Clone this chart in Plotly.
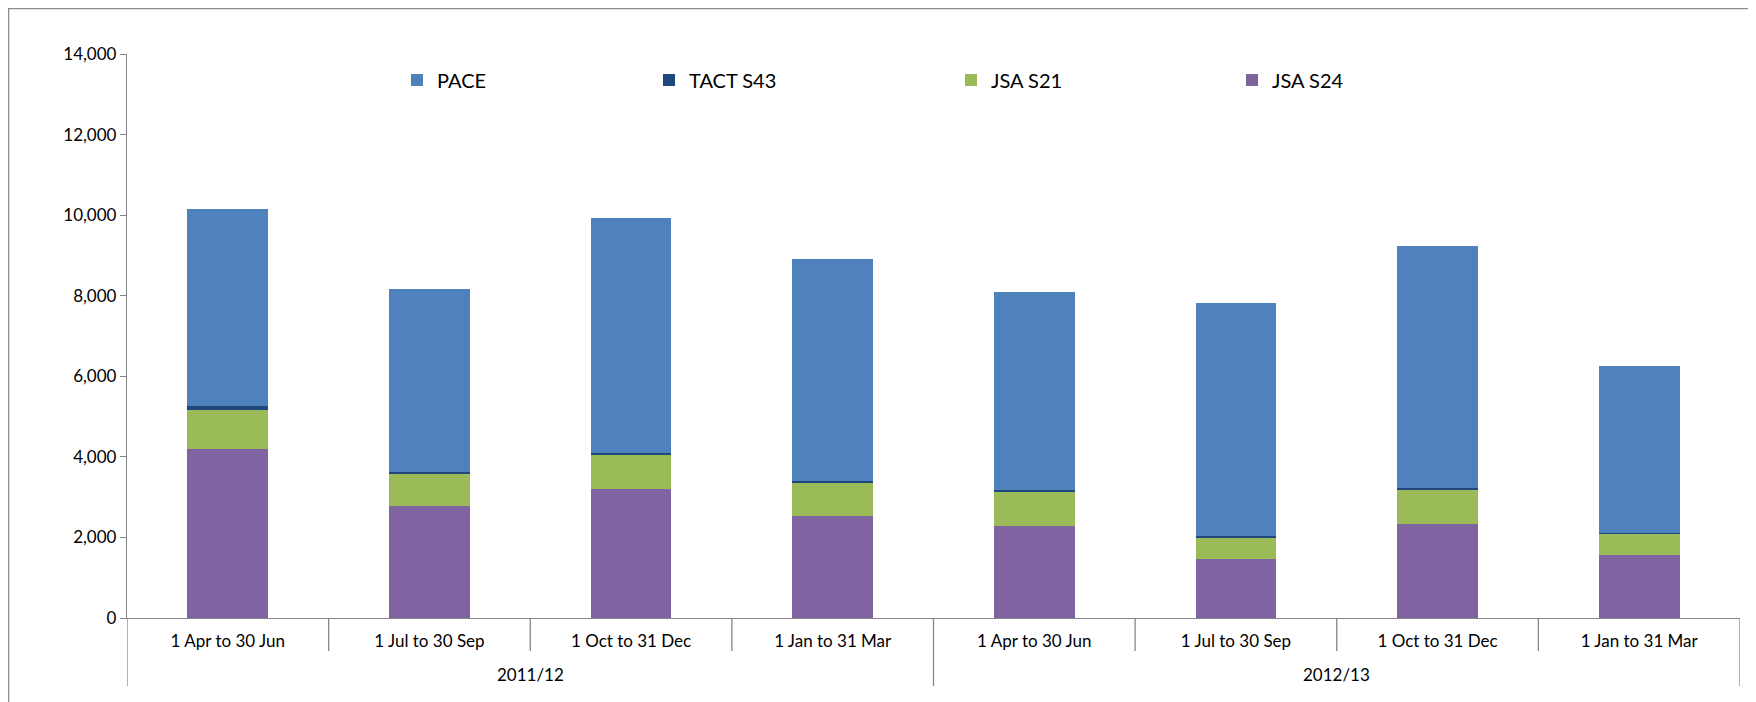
import plotly.graph_objects as go

years = ["2011/12"] * 4 + ["2012/13"] * 4
quarters = ["1 Apr to 30 Jun", "1 Jul to 30 Sep", "1 Oct to 31 Dec", "1 Jan to 31 Mar"] * 2

jsa_s24 = [4195, 2770, 3210, 2530, 2295, 1470, 2345, 1565]
jsa_s21 = [960, 820, 855, 845, 855, 540, 840, 530]
tact_s43 = [105, 35, 35, 30, 35, 30, 45, 15]
pace = [4900, 4530, 5835, 5500, 4915, 5780, 6010, 4155]

FONT = "Lato"
W, H = 1756, 702
# page has an 8px body margin, positions below are in figure pixels
L, R, T, B = 119, 24, 46, 92
PW = W - L - R
PH = H - T - B
AXIS_Y = H - B


def px_x(p):
    return (p - L) / PW


def px_y(p):
    return (AXIS_Y - p) / PH


keys = [f"{y} | {q}" for y, q in zip(years, quarters)]

fig = go.Figure()
series = [
    ("JSA S24", jsa_s24, "#8064A2", "legend4", 1224),
    ("JSA S21", jsa_s21, "#9BBB59", "legend3", 943),
    ("TACT S43", tact_s43, "#1F497D", "legend2", 641),
    ("PACE", pace, "#4F81BD", "legend", 389),
]
for name, vals, col, lg, _ in series:
    fig.add_trace(go.Bar(
        x=keys, y=vals, name=name, legend=lg,
        marker=dict(color=col, line=dict(width=0)),
    ))

leg_common = dict(
    orientation="h", yanchor="middle", xanchor="left",
    font=dict(family=FONT, size=20, color="#000000"),
    bgcolor="rgba(0,0,0,0)", borderwidth=0,
)
legends = {}
for name, vals, col, lg, lx in series:
    legends[lg] = dict(leg_common, x=px_x(lx), y=px_y(72))

AX_COL = "#868686"
shapes = [dict(
    type="rect", xref="paper", yref="paper",
    x0=px_x(0.5), x1=px_x(W + 20), y0=px_y(H + 20), y1=px_y(0.5),
    line=dict(color="#8c8c8c", width=1.5), fillcolor="rgba(0,0,0,0)",
    layer="below",
)]
# category boundaries (inner) and year-group boundaries (outer)
n = len(keys)
for i in range(n + 1):
    is_group = i == 0 or i == n or years[i] != years[i - 1]
    bottom = 678 if is_group else 643
    shapes.append(dict(
        type="line", xref="x", yref="paper",
        x0=i - 0.5, x1=i - 0.5, y0=0, y1=px_y(bottom),
        line=dict(color=AX_COL, width=1.3),
    ))

annotations = []
groups = []
for i, y in enumerate(years):
    if not groups or groups[-1][0] != y:
        groups.append([y, i, i])
    else:
        groups[-1][2] = i
for y, a, b in groups:
    annotations.append(dict(
        text=y, x=(a + b) / 2, xref="x", y=px_y(667), yref="paper",
        xanchor="center", yanchor="middle", showarrow=False,
        font=dict(family=FONT, size=17, color="#000000"),
    ))

fig.update_layout(
    width=W, height=H,
    margin=dict(l=L, r=R, t=T, b=B),
    barmode="stack", bargap=0.6,
    plot_bgcolor="white", paper_bgcolor="white",
    font=dict(family=FONT, size=17, color="#000000"),
    showlegend=True,
    **legends,
    xaxis=dict(
        type="category", range=[-0.5, n - 0.5],
        tickvals=keys, ticktext=quarters,
        showline=True, linecolor=AX_COL, linewidth=1.3,
        ticks="", ticklabelstandoff=7,
        tickfont=dict(family=FONT, size=17, color="#000000"),
        showgrid=False,
    ),
    yaxis=dict(
        range=[0, 14000], dtick=2000, tickformat=",",
        showline=True, linecolor=AX_COL, linewidth=1.3,
        ticks="outside", ticklen=6, tickcolor=AX_COL,
        showgrid=False, zeroline=False,
        tickfont=dict(family=FONT, size=17, color="#000000"),
    ),
    shapes=shapes,
    annotations=annotations,
)

fig.write_html("out.html")
